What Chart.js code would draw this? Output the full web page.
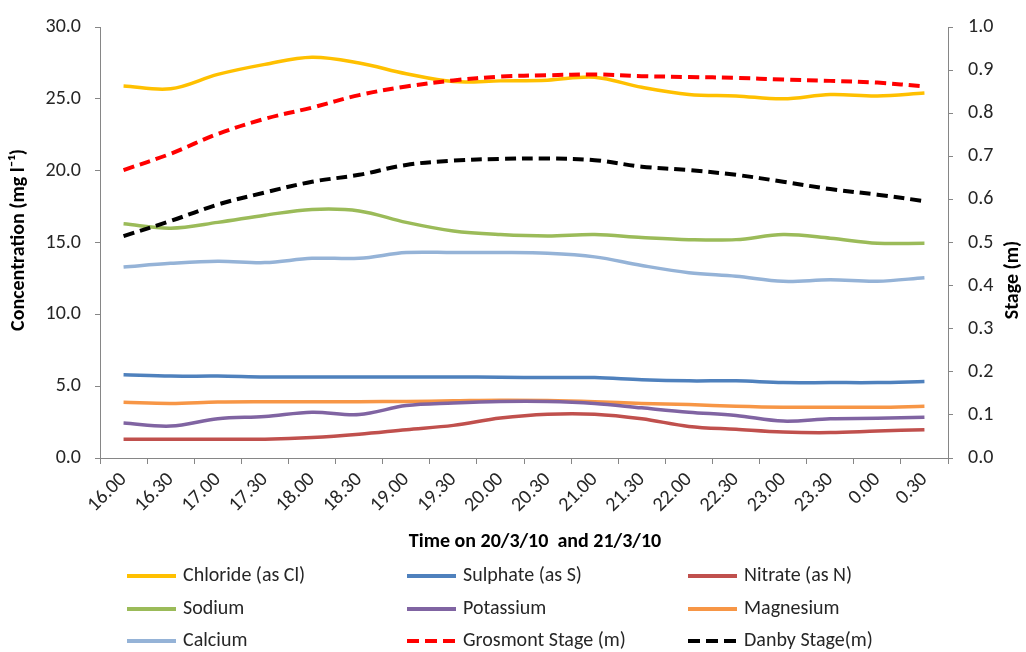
<!DOCTYPE html>
<html>
<head>
<meta charset="utf-8">
<style>
  html, body { margin: 0; padding: 0; background: #ffffff; }
  #wrap { width: 1026px; height: 652px; position: relative; }
</style>
<script src="https://cdn.jsdelivr.net/npm/chart.js@4/dist/chart.umd.min.js"></script>
</head>
<body>
<div id="wrap"><canvas id="c" width="1026" height="652"></canvas></div>
<script>
const timeLabels = ["16.00","16.30","17.00","17.30","18.00","18.30","19.00","19.30","20.00","20.30","21.00","21.30","22.00","22.30","23.00","23.30","0.00","0.30"];

const chloride  = [25.9,25.7,26.7,27.4,27.9,27.5,26.75,26.2,26.25,26.3,26.5,25.8,25.3,25.2,25.0,25.3,25.2,25.4];
const sulphate  = [5.8,5.7,5.7,5.64,5.64,5.64,5.64,5.64,5.62,5.6,5.6,5.45,5.37,5.37,5.25,5.25,5.25,5.32];
const nitrate   = [1.31,1.31,1.31,1.31,1.42,1.65,1.97,2.27,2.78,3.05,3.05,2.73,2.2,2.0,1.81,1.77,1.88,1.97];
const sodium    = [16.3,16.0,16.4,16.9,17.3,17.2,16.4,15.8,15.55,15.45,15.55,15.35,15.2,15.2,15.55,15.3,14.95,14.95];
const potassium = [2.43,2.22,2.73,2.89,3.19,3.03,3.65,3.83,3.94,3.94,3.8,3.49,3.19,2.96,2.57,2.73,2.76,2.84];
const magnesium = [3.88,3.8,3.9,3.92,3.92,3.92,3.94,3.98,4.02,4.0,3.92,3.8,3.72,3.6,3.53,3.53,3.53,3.6];
const calcium   = [13.3,13.55,13.7,13.6,13.9,13.9,14.3,14.3,14.3,14.25,14.0,13.4,12.9,12.65,12.3,12.4,12.3,12.55];
const grosmont  = [0.668,0.706,0.752,0.787,0.813,0.842,0.862,0.876,0.885,0.888,0.890,0.886,0.884,0.882,0.878,0.875,0.871,0.862];
const danby     = [0.515,0.55,0.588,0.616,0.641,0.657,0.68,0.69,0.694,0.695,0.691,0.676,0.668,0.657,0.641,0.624,0.611,0.596];

const seriesNames = ["Chloride (as Cl)","Sulphate (as S)","Nitrate (as N)","Sodium","Potassium","Magnesium","Calcium","Grosmont Stage (m)","Danby Stage(m)"];
const leftTicks = [0,5,10,15,20,25,30];
const rightTicks = [0,0.1,0.2,0.3,0.4,0.5,0.6,0.7,0.8,0.9,1.0];

const FONT = "Carlito, Lato, 'Liberation Sans', sans-serif";
const TXT = '#262626';
const AXIS = '#868686';

function solid(label, data, color) {
  return { label, data, yAxisID: 'y', borderColor: color, backgroundColor: color,
    borderWidth: 3.5, pointRadius: 0, pointHoverRadius: 0, tension: 0.35, fill: false, order: 2 };
}
function dashed(label, data, color) {
  return { label, data, yAxisID: 'y1', borderColor: color, backgroundColor: color,
    borderWidth: 4, borderDash: [11, 6], borderCapStyle: 'butt', pointRadius: 0, pointHoverRadius: 0,
    tension: 0.35, fill: false, order: 1 };
}

const datasets = [
  solid(seriesNames[0], chloride, '#FFC000'),
  solid(seriesNames[1], sulphate, '#4F81BD'),
  solid(seriesNames[2], nitrate, '#C0504D'),
  solid(seriesNames[3], sodium, '#9BBB59'),
  solid(seriesNames[4], potassium, '#8064A2'),
  solid(seriesNames[5], magnesium, '#F79646'),
  solid(seriesNames[6], calcium, '#95B3D7'),
  dashed(seriesNames[7], grosmont, '#FF0000'),
  dashed(seriesNames[8], danby, '#000000')
];

const decor = {
  id: 'decor',
  afterDraw(chart) {
    const ctx = chart.ctx;
    ctx.save();
    ctx.fillStyle = '#000';
    ctx.font = "bold 20px " + FONT;
    ctx.textAlign = 'center';
    ctx.textBaseline = 'middle';
    ctx.fillText('Time on 20/3/10  and 21/3/10', 535, 542);
    ctx.save();
    ctx.translate(19, 240);
    ctx.rotate(-Math.PI / 2);
    ctx.fillText('Concentration (mg l\u207B\u00B9)', 0, 0);
    ctx.restore();
    ctx.save();
    ctx.translate(1013, 280);
    ctx.rotate(-Math.PI / 2);
    ctx.fillText('Stage (m)', 0, 0);
    ctx.restore();

    const colX = [127, 407, 688];
    const rowY = [576, 609, 641];
    ctx.font = "20px " + FONT;
    ctx.textAlign = 'left';
    chart.data.datasets.forEach((ds, i) => {
      const x = colX[i % 3], y = rowY[Math.floor(i / 3)];
      ctx.beginPath();
      ctx.strokeStyle = ds.borderColor;
      ctx.lineWidth = 4;
      ctx.setLineDash(ds.borderDash ? [12, 6] : []);
      ctx.lineCap = 'butt';
      ctx.moveTo(x, y);
      ctx.lineTo(x + 49, y);
      ctx.stroke();
      ctx.setLineDash([]);
      ctx.fillStyle = TXT;
      ctx.fillText(ds.label, x + 56, y);
    });
    ctx.restore();
  }
};

new Chart(document.getElementById('c'), {
  type: 'line',
  data: { labels: timeLabels, datasets },
  options: {
    responsive: false,
    animation: false,
    layout: { padding: { top: 22, left: 0, right: 0, bottom: 0 } },
    plugins: { legend: { display: false }, tooltip: { enabled: false } },
    scales: {
      x: {
        type: 'category',
        offset: true,
        grid: { drawOnChartArea: false, drawTicks: true, tickLength: 6, color: AXIS, offset: true },
        border: { color: AXIS, width: 1 },
        ticks: { maxRotation: 45, minRotation: 45, autoSkip: false, padding: 4,
          color: TXT, font: { family: FONT, size: 20 } },
        afterFit(s) { s.height = 194; }
      },
      y: {
        position: 'left', min: 0, max: 30,
        afterBuildTicks(s) { s.ticks = leftTicks.map(v => ({ value: v })); },
        grid: { drawOnChartArea: false, tickLength: 5, color: AXIS },
        border: { color: AXIS, width: 1 },
        ticks: { padding: 14, color: TXT, font: { family: FONT, size: 20 },
          callback: v => Number(v).toFixed(1) },
        afterFit(s) { s.width = 100; }
      },
      y1: {
        position: 'right', min: 0, max: 1,
        afterBuildTicks(s) { s.ticks = rightTicks.map(v => ({ value: v })); },
        grid: { drawOnChartArea: false, tickLength: 5, color: AXIS },
        border: { color: AXIS, width: 1 },
        ticks: { padding: 15, color: TXT, font: { family: FONT, size: 20 },
          callback: v => Number(v).toFixed(1) },
        afterFit(s) { s.width = 78; }
      }
    }
  },
  plugins: [decor]
});
</script>
</body>
</html>
